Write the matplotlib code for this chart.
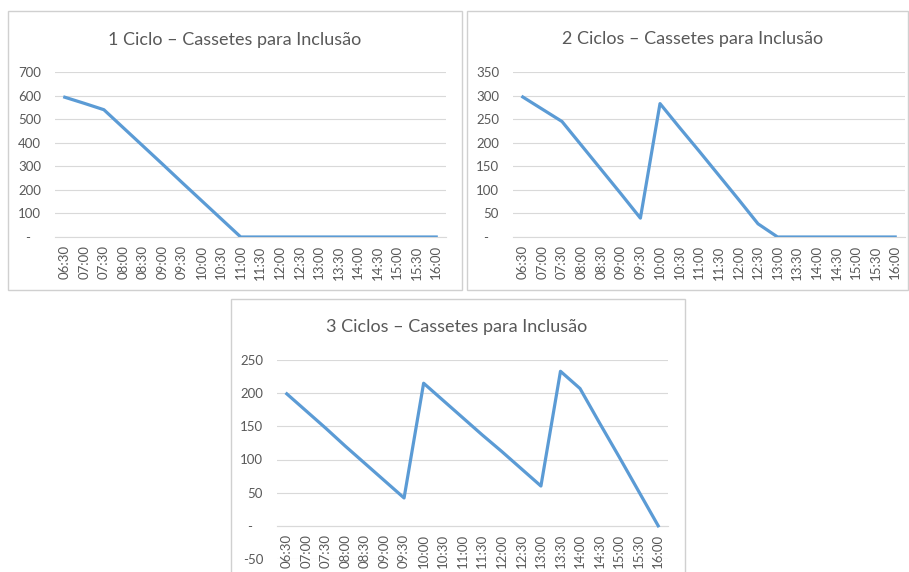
import matplotlib.pyplot as plt
from matplotlib.patches import Rectangle

plt.rcParams['font.family'] = ['Lato', 'DejaVu Sans']

# horarios (eixo x)
horas = ["06:30", "07:00", "07:30", "08:00", "08:30", "09:00", "09:30", "10:00",
         "10:30", "11:00", "11:30", "12:00", "12:30", "13:00", "13:30", "14:00",
         "14:30", "15:00", "15:30", "16:00"]

# cassetes restantes
ciclo1 = [593, 567, 540, 463, 386, 309, 231, 154, 77, 0,
          0, 0, 0, 0, 0, 0, 0, 0, 0, 0]
ciclo2 = [297, 271, 245, 194, 143, 92, 40, 283, 232, 182,
          131, 80, 28, 0, 0, 0, 0, 0, 0, 0]
ciclo3 = [199, 173, 147, 120, 94, 68, 42, 215, 189, 163,
          137, 112, 86, 60, 233, 207, 155, 104, 52, 0]

titulos = ["1 Ciclo \u2013 Cassetes para Inclus\u00e3o",
           "2 Ciclos \u2013 Cassetes para Inclus\u00e3o",
           "3 Ciclos \u2013 Cassetes para Inclus\u00e3o"]

W, H = 909, 572
fig = plt.figure(figsize=(W / 100, H / 100), dpi=100)

cinza = '#595959'
grade = '#d9d9d9'
azul = '#5b9bd5'


def px_axes(x0, x1, ytop, ybot):
    return fig.add_axes([x0 / W, 1 - ybot / H, (x1 - x0) / W, (ybot - ytop) / H])


def moldura(x0, y0, x1, y1):
    fig.patches.append(Rectangle((x0 / W, 1 - y1 / H), (x1 - x0) / W, (y1 - y0) / H,
                                 transform=fig.transFigure, fill=False,
                                 edgecolor='#d0d0d0', linewidth=1.0))


def rotulo(v):
    return '-   ' if v == 0 else f'{int(v)}'


def grafico(ax, valores, titulo, yticks, cx, ty):
    x = list(range(len(horas)))
    # eixo x cruzando em zero (antes de definir os rotulos)
    ax.spines['bottom'].set_position(('data', 0))
    ax.plot(x, valores, color=azul, linewidth=2.3, zorder=3)
    ax.set_xlim(-0.5, len(horas) - 0.5)
    ax.set_ylim(yticks[0], yticks[-1])
    ax.set_yticks(yticks)
    ax.set_yticklabels([rotulo(v) for v in yticks])
    ax.set_xticks(x)
    ax.set_xticklabels(horas, rotation=90, ha='center', va='top')
    ax.grid(axis='y', color=grade, linewidth=0.8, zorder=0)
    for s in ['top', 'right', 'left']:
        ax.spines[s].set_visible(False)
    ax.spines['bottom'].set_color(grade)
    ax.spines['bottom'].set_linewidth(0.8)
    ax.tick_params(axis='both', length=0, colors=cinza, labelsize=9.5)
    ax.tick_params(axis='x', pad=6)
    ax.tick_params(axis='y', pad=10)
    fig.text(cx / W, 1 - ty / H, titulo, ha='center', va='center',
             fontsize=13, color=cinza)


moldura(8, 11, 462, 290)
moldura(467, 11, 908, 290)
moldura(231, 299, 685, 600)

ax1 = px_axes(55, 446, 72, 237)
grafico(ax1, ciclo1, titulos[0], [0, 100, 200, 300, 400, 500, 600, 700], 235, 40)

ax2 = px_axes(513, 905, 72, 237)
grafico(ax2, ciclo2, titulos[1], [0, 50, 100, 150, 200, 250, 300, 350], 693, 39)

ax3 = px_axes(277, 668, 360, 559)
grafico(ax3, ciclo3, titulos[2], [-50, 0, 50, 100, 150, 200, 250], 457, 327)

plt.savefig('out.png', dpi=100)
